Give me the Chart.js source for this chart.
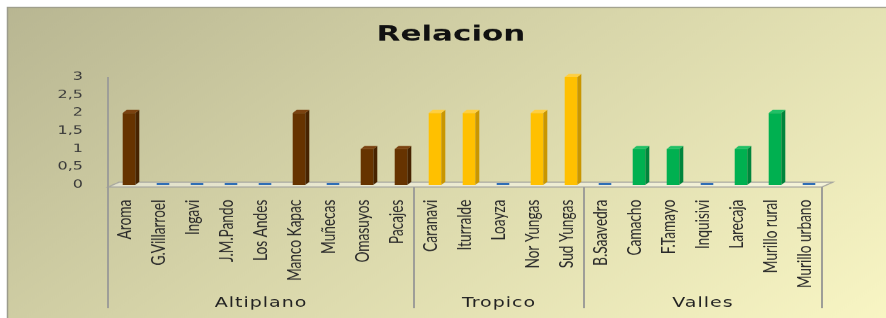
<!DOCTYPE html>
<html><head><meta charset="utf-8">
<script src="https://cdn.jsdelivr.net/npm/chart.js@4/dist/chart.umd.min.js"></script>
<style>html,body{margin:0;padding:0;background:#fff;overflow:hidden}
canvas{display:block}</style>
</head><body>
<canvas id="c" width="886" height="454" style="width:886px;height:318px"></canvas>
<script>
// ---- data ----
const title = "Relacion";
const categories = ["Aroma","G.Villarroel","Ingavi","J.M.Pando","Los Andes","Manco Kapac","Muñecas","Omasuyos","Pacajes",
  "Caranavi","Iturralde","Loayza","Nor Yungas","Sud Yungas",
  "B.Saavedra","Camacho","F.Tamayo","Inquisivi","Larecaja","Murillo rural","Murillo urbano"];
const values = [2,0,0,0,0,2,0,1,1, 2,2,0,2,3, 0,1,1,0,1,2,0];
const groupNames = ["Altiplano","Tropico","Valles"];
const groupSizes = [9,5,7];
const yTickValues = [0,0.5,1,1.5,2,2.5,3];

// ---- style ----
const groupColors = ["#663300","#FFC000","#00B050"];
const groupSide = ["#472300","#C99600","#00853C"];
const groupTop = ["#7A4210","#FFCF40","#20C066"];
const zeroColor = "#2F6EB5";
const SHIFT = 4, DX = 4, DY = 4.5;

const groupOf = [];
groupSizes.forEach((n, g) => { for (let i = 0; i < n; i++) groupOf.push(g); });
const barColors = values.map((v, i) => v === 0 ? zeroColor : groupColors[groupOf[i]]);

const deco = {
  id: 'deco',
  beforeDraw(chart) {
    const ctx = chart.ctx; ctx.save();
    ctx.fillStyle = '#fff'; ctx.fillRect(0, 0, chart.width, chart.height);
    const g = ctx.createLinearGradient(7, 10, 700, 700);
    g.addColorStop(0, '#B8B692'); g.addColorStop(0.45, '#D8D6AA'); g.addColorStop(1, '#FBF8C6');
    ctx.fillStyle = g; ctx.fillRect(7, 10, chart.width - 7, chart.height - 10);
    ctx.strokeStyle = '#9C9C8C'; ctx.lineWidth = 1.5;
    ctx.beginPath(); ctx.moveTo(7.5, chart.height); ctx.lineTo(7.5, 10.5); ctx.lineTo(chart.width, 10.5); ctx.stroke();
    ctx.fillStyle = '#111'; ctx.font = 'bold 31px "DejaVu Sans"'; ctx.textAlign = 'center'; ctx.textBaseline = 'middle';
    ctx.fillText(title, 451, 50);
    ctx.restore();
  },
  afterDatasetsUpdate(chart) {
    chart.getDatasetMeta(0).data.forEach(el => { el.x += SHIFT; });
  },
  beforeDatasetsDraw(chart) {
    const ctx = chart.ctx, a = chart.chartArea, y0 = chart.scales.y.getPixelForValue(0);
    ctx.save();
    ctx.beginPath();
    ctx.moveTo(a.left, y0 + 3); ctx.lineTo(a.right, y0 + 3);
    ctx.lineTo(a.right + 11, y0 - 4); ctx.lineTo(a.left + 11, y0 - 4); ctx.closePath();
    ctx.fillStyle = 'rgba(255,255,255,0.45)'; ctx.fill();
    ctx.strokeStyle = '#A8A8A0'; ctx.lineWidth = 1.5; ctx.stroke();
    ctx.restore();
  },
  afterDatasetsDraw(chart) {
    const ctx = chart.ctx; ctx.save();
    chart.getDatasetMeta(0).data.forEach((el, i) => {
      if (values[i] === 0) return;
      const g = groupOf[i];
      const l = el.x - el.width / 2, r = el.x + el.width / 2, t = el.y, b = el.base;
      ctx.fillStyle = groupSide[g];
      ctx.beginPath(); ctx.moveTo(r, t); ctx.lineTo(r + DX, t - DY); ctx.lineTo(r + DX, b - DY); ctx.lineTo(r, b); ctx.closePath(); ctx.fill();
      ctx.fillStyle = groupTop[g];
      ctx.beginPath(); ctx.moveTo(l, t); ctx.lineTo(l + DX, t - DY); ctx.lineTo(r + DX, t - DY); ctx.lineTo(r, t); ctx.closePath(); ctx.fill();
    });
    ctx.restore();
  },
  afterDraw(chart) {
    const ctx = chart.ctx, a = chart.chartArea, xs = chart.scales.x, y0 = chart.scales.y.getPixelForValue(0);
    const bottom = 440;
    ctx.save();
    ctx.strokeStyle = '#9E9E98'; ctx.lineWidth = 2;
    ctx.beginPath(); ctx.moveTo(a.left, a.top); ctx.lineTo(a.left, bottom); ctx.stroke();
    let idx = 0;
    ctx.fillStyle = '#222'; ctx.font = '19px "DejaVu Sans"'; ctx.textAlign = 'center'; ctx.textBaseline = 'middle';
    try { ctx.letterSpacing = '1px'; } catch (e) {}
    groupSizes.forEach((n, g) => {
      const start = idx, end = idx + n - 1; idx += n;
      const xl = start === 0 ? a.left : (xs.getPixelForValue(start - 1) + xs.getPixelForValue(start)) / 2;
      const xr = end === categories.length - 1 ? a.right : (xs.getPixelForValue(end) + xs.getPixelForValue(end + 1)) / 2;
      ctx.beginPath(); ctx.moveTo(xr, y0 + 3); ctx.lineTo(xr, bottom); ctx.stroke();
      ctx.fillText(groupNames[g], (xl + xr) / 2, 433);
    });
    ctx.restore();
  }
};

new Chart(document.getElementById('c'), {
  type: 'bar',
  data: { labels: categories, datasets: [{ data: values, backgroundColor: barColors, minBarLength: 3,
    barPercentage: 0.37, categoryPercentage: 1 }] },
  options: {
    responsive: false, animation: false, devicePixelRatio: 1,
    layout: { padding: { left: 0, right: 64, top: 110, bottom: 0 } },
    plugins: { legend: { display: false }, tooltip: { enabled: false }, title: { display: false } },
    scales: {
      x: {
        grid: { display: false }, border: { display: false },
        ticks: { autoSkip: false, minRotation: 90, maxRotation: 90, padding: 13, color: '#2A2A2A',
          font: { family: 'Lato', size: 19.5 } },
        afterFit(s) { s.height = 190; }
      },
      y: {
        min: 0, max: 3,
        grid: { display: false }, border: { display: false },
        afterBuildTicks(s) { s.ticks = yTickValues.map(v => ({ value: v })); },
        ticks: { padding: 17, color: '#3A3A3A', font: { family: 'DejaVu Sans', size: 16 },
          callback: v => String(v).replace('.', ',') },
        afterFit(s) { s.width = 108; }
      }
    }
  },
  plugins: [deco]
});
</script>
</body></html>
